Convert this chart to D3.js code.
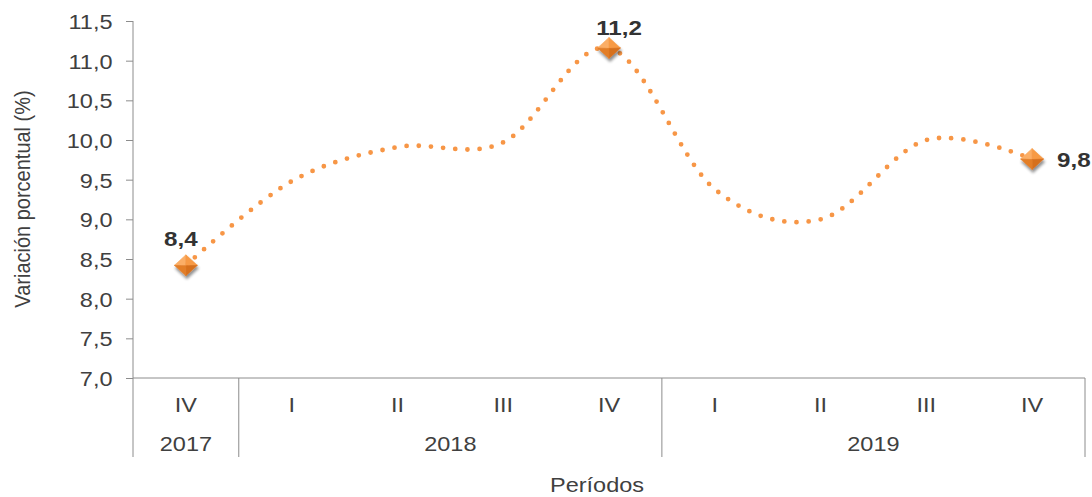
<!DOCTYPE html>
<html>
<head>
<meta charset="utf-8">
<script src="https://cdn.jsdelivr.net/npm/d3@7"></script>
<style>
  html, body { margin: 0; padding: 0; background: #fff; }
  svg { display: block; }
  text { font-family: "Liberation Sans", Arial, sans-serif; }
</style>
</head>
<body>
<script>
// ---- data ----
const quarters = ["IV", "I", "II", "III", "IV", "I", "II", "III", "IV"];
const years = ["2017", "2018", "2018", "2018", "2018", "2019", "2019", "2019", "2019"];
const values = [8.42, 9.48, 9.91, 9.97, 11.16, 9.38, 9.00, 10.00, 9.76];
const labeledPoints = [0, 4, 8];
const labelPlacement = ["above", "above", "right"];
const yTicks = [7.0, 7.5, 8.0, 8.5, 9.0, 9.5, 10.0, 10.5, 11.0, 11.5];
const yTitle = "Variación porcentual (%)";
const xTitle = "Períodos";

(function () {
// ---- layout ----
const W = 1092, H = 497;
const pLeft = 133, pRight = 1085, pTop = 21, pBottom = 378;
const SX = 1.12; // horizontal text stretch
const axisColor = "#8c8c8c";
const textColor = "#404040";
const lineColor = "#F79646";
const fmt = v => v.toFixed(1).replace(".", ",");
const labelOffsets = [[-5, -19], [10, -13], [25, 8]];

const svg = d3.select("body").append("svg").attr("width", W).attr("height", H);

const x = d3.scaleBand().domain(d3.range(values.length)).range([pLeft, pRight]).padding(0);
const cx = i => x(i) + x.bandwidth() / 2;
const y = d3.scaleLinear().domain([7, 11.5]).range([pBottom, pTop]);

// defs
const defs = svg.append("defs");
const f = defs.append("filter").attr("id", "shadow").attr("x", "-50%").attr("y", "-50%").attr("width", "200%").attr("height", "200%");
f.append("feGaussianBlur").attr("in", "SourceAlpha").attr("stdDeviation", 1.8).attr("result", "b");
f.append("feOffset").attr("in", "b").attr("dx", 0.5).attr("dy", 2.5).attr("result", "o");
f.append("feComponentTransfer").attr("in", "o").attr("result", "o2")
  .append("feFuncA").attr("type", "linear").attr("slope", 0.45);
const m = f.append("feMerge");
m.append("feMergeNode").attr("in", "o2");
m.append("feMergeNode").attr("in", "SourceGraphic");

// y axis
const yAxis = d3.axisLeft(y).tickValues(yTicks).tickSize(7).tickPadding(0).tickFormat(fmt);
const gy = svg.append("g").attr("transform", `translate(${pLeft},0)`).call(yAxis);
gy.select(".domain").remove();
gy.selectAll(".tick line").attr("stroke", axisColor).attr("stroke-width", 1);
gy.selectAll(".tick text").remove();
gy.selectAll(".tick").append("text")
  .attr("transform", `translate(-20.5,0) scale(${SX},1)`)
  .attr("dy", "0.36em")
  .attr("text-anchor", "end")
  .attr("fill", textColor)
  .style("font-size", "21px")
  .text(d => fmt(d));

// axis lines
const xAxisBottom = 457;
svg.append("line").attr("x1", pLeft).attr("x2", pLeft).attr("y1", pTop).attr("y2", xAxisBottom)
  .attr("stroke", axisColor).attr("stroke-width", 1);
svg.append("line").attr("x1", pLeft).attr("x2", pRight).attr("y1", pBottom).attr("y2", pBottom)
  .attr("stroke", axisColor).attr("stroke-width", 1);

// year groups
const groups = [];
years.forEach((yr, i) => {
  const g = groups.find(d => d.year === yr);
  if (g) g.end = i; else groups.push({ year: yr, start: i, end: i });
});
groups.forEach(g => {
  const xe = x(g.end) + x.bandwidth();
  svg.append("line").attr("x1", xe).attr("x2", xe).attr("y1", pBottom).attr("y2", xAxisBottom)
    .attr("stroke", axisColor).attr("stroke-width", 1);
  const xm = (x(g.start) + xe) / 2;
  svg.append("text")
    .attr("transform", `translate(${xm},451) scale(${SX},1)`)
    .attr("text-anchor", "middle").attr("fill", textColor).style("font-size", "21px")
    .text(g.year);
});

// quarter labels
svg.selectAll("text.q").data(quarters).join("text").attr("class", "q")
  .attr("transform", (d, i) => `translate(${cx(i)},412) scale(${SX},1)`)
  .attr("text-anchor", "middle").attr("fill", textColor).style("font-size", "21px")
  .text(d => d);

// axis titles
svg.append("text")
  .attr("transform", `translate(${(pLeft + pRight) / 2 - 12},492) scale(${SX},1)`)
  .attr("text-anchor", "middle").attr("fill", textColor).style("font-size", "21px")
  .text(xTitle);
svg.append("text")
  .attr("transform", `translate(30,199) rotate(-90) scale(1,${SX})`)
  .attr("text-anchor", "middle").attr("fill", textColor).style("font-size", "20px")
  .text(yTitle);

// line
const line = d3.line().x((d, i) => cx(i)).y(d => y(d)).curve(d3.curveCatmullRom.alpha(0));
svg.append("path").datum(values).attr("d", line)
  .attr("fill", "none").attr("stroke", lineColor).attr("stroke-width", 4.8)
  .attr("stroke-linecap", "round").attr("stroke-dasharray", "0 12.2");

// markers
const hw = 11.5, hh = 10.5;
labeledPoints.forEach(i => {
  const g = svg.append("g").attr("transform", `translate(${cx(i)},${y(values[i])})`).attr("filter", "url(#shadow)");
  const c = [0, 0.5];
  const facets = [
    { pts: [[-hw, 0], [0, -hh], c], fill: "#FBAE66" },
    { pts: [[0, -hh], [hw, 0], c], fill: "#F79A45" },
    { pts: [[hw, 0], [0, hh], c], fill: "#D66F1D" },
    { pts: [[0, hh], [-hw, 0], c], fill: "#E37E28" }
  ];
  facets.forEach(fc => {
    g.append("path").attr("d", "M" + fc.pts.map(p => p.join(",")).join("L") + "Z")
      .attr("fill", fc.fill).attr("stroke", fc.fill).attr("stroke-width", 0.6);
  });
});

// data labels
labeledPoints.forEach((i, k) => {
  const px = cx(i), py = y(values[i]);
  const [dx, dy] = labelOffsets[k];
  const t = svg.append("text").attr("fill", "#333").style("font-size", "21px").style("font-weight", "bold");
  t.attr("transform", `translate(${px + dx},${py + dy}) scale(${SX + 0.03},1)`)
   .attr("text-anchor", labelPlacement[k] === "above" ? "middle" : "start");
  t.text(fmt(values[i]));
});
})();
</script>
</body>
</html>
